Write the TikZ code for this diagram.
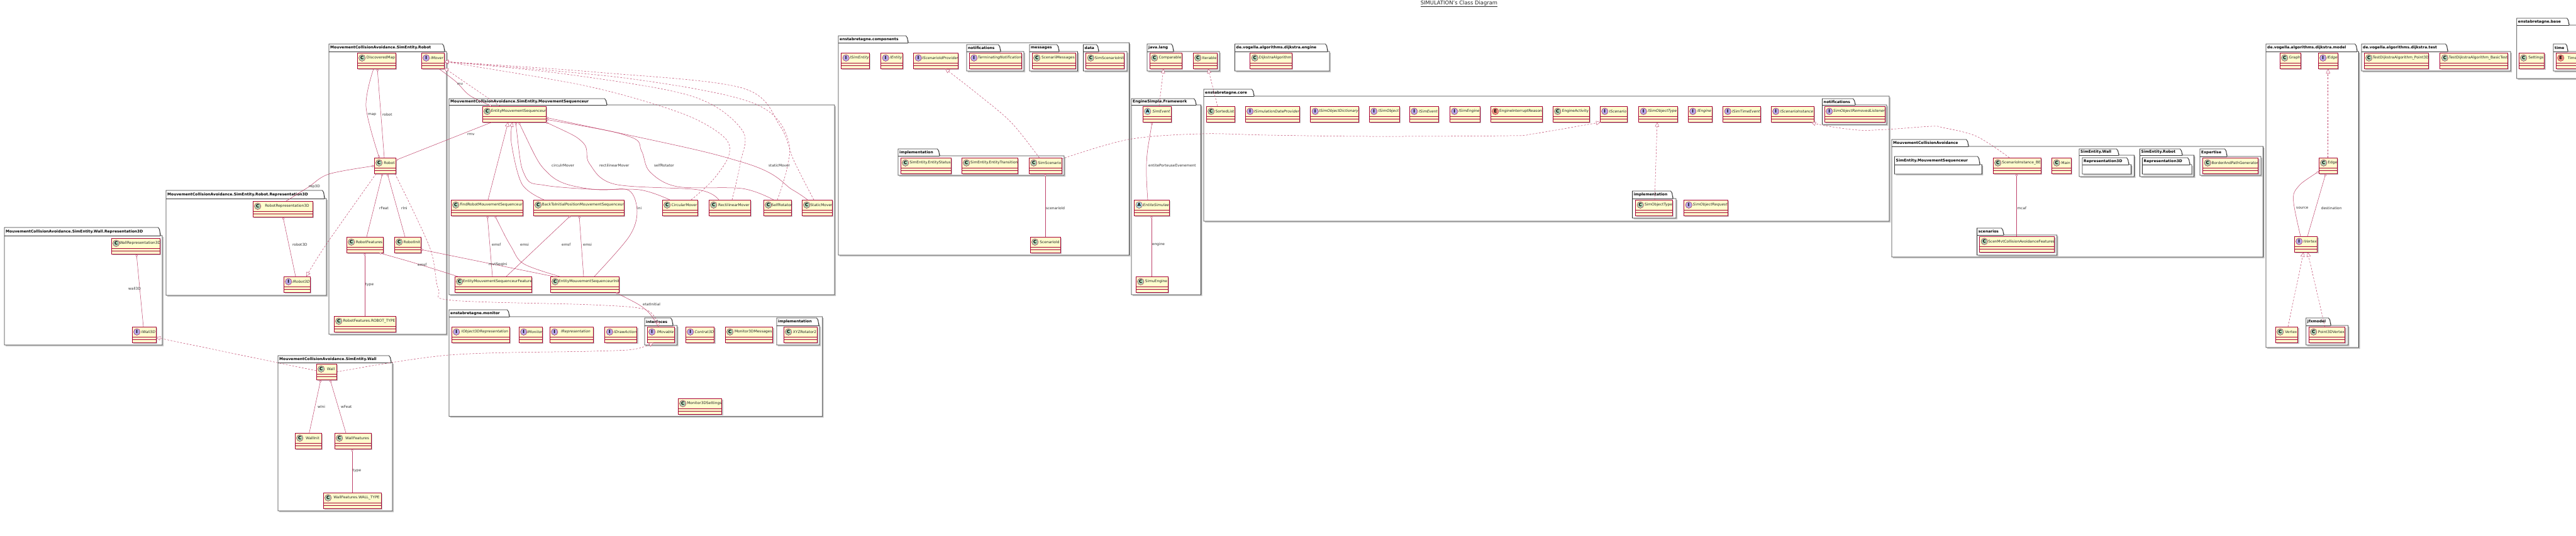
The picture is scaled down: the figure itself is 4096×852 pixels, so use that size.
\documentclass[tikz,border=0pt]{standalone}
\usepackage{fontspec}
\setmainfont{DejaVu Sans}
\usetikzlibrary{arrows.meta,calc}
\definecolor{clsB}{HTML}{A80036}
\definecolor{clsF}{HTML}{FEFECE}
\definecolor{spotC}{HTML}{ADD1B2}
\definecolor{spotI}{HTML}{B4A7E5}
\definecolor{spotA}{HTML}{A9DCDF}
\definecolor{spotE}{HTML}{EB937F}
\definecolor{frameC}{HTML}{333333}
\definecolor{shadowC}{HTML}{C4C4C4}
\tikzset{
 clsbox/.style={draw=clsB,fill=clsF,line width=.7pt,inner sep=0,outer sep=0,anchor=north west,minimum height=25.5pt},
 clssep/.style={draw=clsB,line width=.5pt},
 spotbox/.style={circle,draw=clsB,line width=.35pt,inner sep=0,minimum size=10.6pt,font=\fontsize{7}{8}\selectfont\bfseries,text=black},
 nameC/.style={font=\fontsize{5.9}{7}\selectfont,text=black!85,inner sep=0},
 nameE/.style={nameC},
 nameI/.style={font=\fontsize{5.9}{7}\selectfont\itshape,text=black!85,inner sep=0},
 nameA/.style={nameI},
 pkgframe/.style={draw=frameC,fill=white,line width=.9pt,line join=miter},
 pkgshadow/.style={fill=shadowC},
 pkgtitle/.style={font=\fontsize{6}{7}\selectfont\bfseries,inner sep=0,anchor=west,text=black},
 lab/.style={font=\fontsize{5.8}{7}\selectfont,inner sep=0,anchor=west,text=black!80},
 rel/.style={draw=clsB!75,line width=.5pt},
 dep/.style={rel,dash pattern=on 2.8pt off 2.4pt},
 agg/.style={-{Diamond[fill=white,length=4.6pt,width=3.2pt,line width=.4pt]}},
 gag/.style={{Diamond[fill=white,length=4.6pt,width=3.2pt,line width=.4pt]}-},
 real/.style={-{Triangle[fill=white,length=7pt,width=6.5pt,line width=.4pt]}},
}
\newcommand\cls[6]{%
 \pgfmathsetmacro\clsW{#4-#2}%
 \pgfmathsetmacro\clsTX{(#2+14+#4)/2}%
 \fill[shadowC] (#2+1.8,#3+1.8) rectangle (#4+1.8,#3+27.3);
 \node[clsbox,minimum width=\clsW pt] (#1) at (#2,#3) {};
 \draw[clssep] (#2,#3+16.2) -- (#4,#3+16.2) (#2,#3+20.2) -- (#4,#3+20.2);
 \node[spotbox,fill=spot#5] (#1c) at (#2+7.7,#3+8.2) {#5};
 \node[name#5] (#1t) at (\clsTX,#3+8.2) {#6};
}
% id x1 tabtop tabR bodytop x2 bottom title
\newcommand\pkg[8]{%
 \fill[shadowC] (#2+2,#3+2) -- (#4-1,#3+2) -- (#4+2,#5+2) -- (#6+2,#5+2) -- (#6+2,#7+2) -- (#2+2,#7+2) -- cycle;
 \draw[pkgframe] (#2,#3) -- (#4-3.5,#3) -- (#4-1.5,#3+3) -- (#4,#5) -- (#6,#5) -- (#6,#7) -- (#2,#7) -- cycle;
 \draw[pkgframe] (#2,#5) -- (#4,#5);
 \node[pkgtitle] (#1) at (#2+2,{(#3+#5)/2}) {#8};
}
\newcommand\lbl[4]{\node[lab] (#1) at (#2,#3) {#4};}
\begin{document}
\begin{tikzpicture}[x=1pt,y=-1pt]
\useasboundingbox[fill=white] (0,0) rectangle (4096,852);
\node[font=\fontsize{8.4}{10}\selectfont,text=black!85,inner sep=0] (title) at (2320,6) {\underline{SIMULATION's Class Diagram}};
% ---------- packages
\pkg{pWallRep}{7}{362}{255}{375}{258}{549}{MouvementCollisionAvoidance.SimEntity.Wall.Representation3D}
\pkg{pRobRep}{264}{303}{516}{316}{519}{470}{MouvementCollisionAvoidance.SimEntity.Robot.Representation3D}
\pkg{pRobot}{523}{70}{707}{82}{710}{532}{MouvementCollisionAvoidance.SimEntity.Robot}
\pkg{pWall}{442}{566}{622}{577}{624}{813}{MouvementCollisionAvoidance.SimEntity.Wall}
\pkg{pSeq}{714}{157}{965}{167}{1327}{469}{MouvementCollisionAvoidance.SimEntity.MouvementSequenceur}
\pkg{pMon}{714}{493}{810}{504}{1307.7}{662.7}{enstabretagne.monitor}
\pkg{pMonI}{1025}{506}{1070}{518}{1076.7}{549}{interfaces}
\pkg{pMonIm}{1235}{506}{1302}{518}{1303}{549}{implementation}
\pkg{pComp}{1333}{57}{1444}{68}{1795.5}{406}{enstabretagne.components}
\pkg{pCompN}{1537}{71}{1591}{82}{1628}{113}{notifications}
\pkg{pCompM}{1637}{71}{1684}{82}{1713.5}{113}{messages}
\pkg{pCompD}{1722.5}{71}{1747}{82}{1792}{113}{data}
\pkg{pCompI}{1428}{237}{1494}{248}{1692}{279}{implementation}
\pkg{pJava}{1824}{70}{1866}{82}{1939}{113}{java.lang}
\pkg{pEng}{1963.5}{70}{2111}{82}{2114}{113}{de.vogella.algorithms.dijkstra.engine}
\pkg{pFw}{1799}{157}{1902}{167}{1909.6}{469}{EngineSimple.Framework}
\pkg{pCore}{1914}{142}{1994}{153}{3004}{352}{enstabretagne.core}
\pkg{pCoreN}{2897.5}{157}{2950}{167}{3000}{198}{notifications}
\pkg{pCoreI}{2595.6}{304}{2660}{316}{2665}{347}{implementation}
\pkg{pMCA}{3008}{222}{3130}{233}{3598.5}{409}{MouvementCollisionAvoidance}
\pkg{pMCAs}{3012.5}{249}{3148}{262}{3151.4}{277}{SimEntity.MouvementSequenceur}
\pkg{pMCAw}{3306}{237}{3369}{247}{3393.5}{281}{SimEntity.Wall}
\pkg{pMCAwr}{3311}{251}{3385}{262}{3388.6}{277}{Representation3D}
\pkg{pMCAr}{3402.5}{237}{3470}{247}{3488.6}{281}{SimEntity.Robot}
\pkg{pMCArr}{3406.4}{251}{3482}{262}{3485}{277}{Representation3D}
\pkg{pMCAe}{3498}{237}{3541}{249}{3595}{279}{Expertise}
\pkg{pMCAsc}{3143.6}{363}{3186}{374}{3270.7}{406}{scenarios}
\pkg{pModel}{3603}{70}{3748}{82}{3750.5}{553}{de.vogella.algorithms.dijkstra.model}
\pkg{pJfx}{3666.7}{506}{3706}{518}{3733.7}{549}{jfxmodel}
\pkg{pTest}{3755}{70}{3892}{82}{3992}{113}{de.vogella.algorithms.dijkstra.test}
\pkg{pBase}{4001.7}{29}{4085}{40}{4130}{125}{enstabretagne.base}
\pkg{pTime}{4060}{70}{4083}{82}{4122}{113}{time}
% ---------- classes
\cls{WallRep}{177}{379}{254}{C}{WallRepresentation3D}
\cls{IWallD}{210}{520}{248}{I}{IWall3D}
\cls{RobRep}{402}{320}{497}{C}{RobotRepresentation3D}
\cls{IRobD}{451}{440}{493}{I}{IRobot3D}
\cls{DM}{568}{84}{629}{C}{DiscoveredMap}
\cls{IMover}{670}{84}{706}{I}{IMover}
\cls{Robot}{595}{251}{629}{C}{Robot}
\cls{RFeat}{551}{377}{609}{C}{RobotFeatures}
\cls{RIni}{627}{377}{669}{C}{RobotInit}
\cls{RType}{531}{503}{629}{C}{RobotFeatures.ROBOT\_TYPE}
\cls{Wall}{503}{579}{535}{C}{Wall}
\cls{WallInit}{469}{689}{511}{C}{WallInit}
\cls{WallFeat}{532}{689}{590}{C}{WallFeatures}
\cls{WallType}{514}{784}{606}{C}{WallFeatures.WALL\_TYPE}
\cls{EMS}{767}{169}{868}{C}{EntityMouvementSequenceur}
\cls{FRMS}{717}{318}{831}{C}{FindRobotMouvementSequenceur}
\cls{BTI}{848}{318}{992}{C}{BackToInitialPositionMouvementSequenceur}
\cls{CM}{1053}{318}{1109}{C}{CircularMover}
\cls{RM}{1127}{318}{1193}{C}{RectilinearMover}
\cls{SR}{1214}{318}{1258}{C}{SelfRotator}
\cls{SM}{1275}{318}{1323}{C}{StaticMover}
\cls{EMSF}{723}{440}{845}{C}{EntityMouvementSequenceurFeature}
\cls{EMSI}{875}{440}{984}{C}{EntityMouvementSequenceurInit}
\cls{MonA}{718}{520}{810}{I}{IObject3DRepresentation}
\cls{MonB}{825}{520}{862}{I}{IMonitor}
\cls{MonC}{874}{520}{943}{I}{IRepresentation}
\cls{IDraw}{961.7}{520}{1012.7}{I}{IDrawAction}
\cls{IMovable}{1029}{520}{1072.7}{I}{IMovable}
\cls{Contrat}{1090}{520}{1135.7}{I}{Contrat3D}
\cls{MonMsg}{1153}{520}{1228.7}{C}{Monitor3DMessages}
\cls{XYZ}{1246}{520}{1299}{C}{XYZRotator2}
\cls{MonSet}{1078}{634}{1147.7}{C}{Monitor3DSettings}
\cls{ISE}{1337.5}{84}{1382}{I}{ISimEntity}
\cls{IEnt}{1400.5}{84}{1435}{I}{IEntity}
\cls{ISIP}{1452.5}{84}{1523.4}{I}{IScenarioIdProvider}
\cls{TermN}{1541}{84}{1624}{I}{TerminatingNotification}
\cls{ScMsg}{1641}{84}{1710}{C}{ScenariiMessages}
\cls{SSI}{1726.6}{84}{1787.5}{C}{SimScenarioInit}
\cls{SEES}{1432}{251}{1512}{C}{SimEntity.EntityStatus}
\cls{SEET}{1529}{251}{1618.5}{C}{SimEntity.EntityTransition}
\cls{SimScen}{1636}{251}{1688}{C}{SimScenario}
\cls{ScId}{1638}{377}{1686}{C}{ScenarioId}
\cls{Comparable}{1828}{84}{1879}{C}{Comparable}
\cls{Iterable}{1897}{84}{1935}{C}{Iterable}
\cls{Dijkstra}{1987.5}{84}{2054}{C}{DijkstraAlgorithm}
\cls{SimEvent}{1817}{169}{1862}{A}{SimEvent}
\cls{EntSim}{1803.5}{318}{1859}{A}{EntiteSimulee}
\cls{SimuEng}{1806}{440}{1857}{C}{SimuEngine}
\cls{SortedList}{1918}{169}{1963}{C}{SortedList}
\cls{ISDP}{1980}{169}{2066}{I}{ISimulationDateProvider}
\cls{ISOD}{2083.5}{169}{2160}{I}{ISimObjectDictionary}
\cls{ISO}{2177}{169}{2225}{I}{ISimObject}
\cls{ISEv}{2241}{169}{2287}{I}{ISimEvent}
\cls{ISEn}{2305}{169}{2353}{I}{ISimEngine}
\cls{EIR}{2370}{169}{2452}{E}{EngineInterruptReason}
\cls{EAct}{2469}{169}{2527}{C}{EngineActivity}
\cls{IScen}{2544}{169}{2587}{I}{IScenario}
\cls{ISOT}{2605.5}{169}{2667}{I}{ISimObjectType}
\cls{IEng}{2684}{169}{2722}{I}{IEngine}
\cls{ISTE}{2739.5}{169}{2799}{I}{ISimTimeEvent}
\cls{IScI}{2816}{169}{2884}{I}{IScenarioInstance}
\cls{SORL}{2901}{169}{2997}{I}{SimObjectRemovedListener}
\cls{SOT}{2600.5}{318}{2659.5}{C}{SimObjectType}
\cls{SOR}{2677.5}{318}{2747}{I}{SimObjectRequest}
\cls{SIBE}{3169}{251}{3245}{C}{ScenarioInstance\_BE}
\cls{Main}{3262.5}{251}{3293}{C}{Main}
\cls{BAPG}{3502.5}{251}{3590.7}{C}{BorderAndPathGenerator}
\cls{SMCAF}{3147.5}{376}{3266.8}{C}{ScenMvtCollisionAvoidanceFeatures}
\cls{Graph}{3625}{84}{3658.4}{C}{Graph}
\cls{IEdge}{3686}{84}{3717}{I}{IEdge}
\cls{Edge}{3687}{251}{3716.6}{C}{Edge}
\cls{IVertex}{3648}{376}{3684.7}{I}{IVertex}
\cls{Vertex}{3618}{520}{3653.7}{C}{Vertex}
\cls{PVertex}{3671}{520}{3728.7}{C}{Point3DVertex}
\cls{TPoint}{3759}{84}{3861.6}{C}{TestDijkstraAlgorithm\_Point3D}
\cls{TBasic}{3879.7}{84}{3987.5}{C}{TestDijkstraAlgorithm\_BasicTest}
\cls{Settings}{4005}{84}{4045.7}{C}{Settings}
\cls{TimeUnit}{4064}{84}{4114}{E}{TimeUnit}
% ---------- connectors
\tikzset{smoothy/.style={smooth,tension=.55}}
% left side
\draw[rel,gag] (WallRep.south -| 217,0) -- (IWallD.north -| 228,0);
\draw[rel,gag] (RobRep.south -| 450,0) -- (IRobD.north -| 470,0);
\draw[dep,real] (Wall.west |- 0,590) -- (IWallD.east |- 0,537);
\draw[rel,agg] plot[smoothy] coordinates {(RobRep.north -| 455,0) (490,298) (523,277) (Robot.west |- 0,264)};
\draw[dep,real] plot[smoothy] coordinates {(Robot.south -| 598,0) (518,390) (IRobD.north -| 487,0)};
\draw[rel,agg] plot[smoothy] coordinates {(DM.south -| 594,0) (582,170) (Robot.north -| 603,0)};
\draw[rel,gag] (DM.south -| 600,0) -- (Robot.north -| 611,0);
\draw[rel,gag] (Robot.south -| 608,0) -- (RFeat.north -| 583,0);
\draw[rel,gag] (Robot.south -| 616,0) -- (RIni.north -| 644,0);
\draw[rel,gag] (Robot.east |- 0,255) -- (EMS.south -| 782,0);
\draw[rel,agg] plot[smoothy] coordinates {(IMover.south -| 698,0) (725,130) (747,152) (EMS.north -| 782,0)};
\draw[dep,real] (EMS.north -| 795,0) -- (IMover.east |- 0,108);
\draw[rel,gag] (RFeat.south -| 580,0) -- (RType.north -| 580,0);
\draw[rel,gag] plot[smoothy] coordinates {(RFeat.south -| 603,0) (664,420) (EMSF.north -| 728,0)};
\draw[rel,gag] (RIni.east |- 0,397) -- (EMSI.north -| 880,0);
\draw[rel,gag] (Wall.south -| 510,0) -- (WallInit.north -| 491.7,0);
\draw[rel,gag] (Wall.south -| 525,0) -- (WallFeat.north -| 550,0);
\draw[rel,gag] (WallFeat.south -| 560,0) -- (WallType.north -| 560,0);
% sequencer
\draw[rel,real] (FRMS.north -| 776,0) -- (EMS.south -| 808,0);
\draw[rel,real] plot[smoothy] coordinates {(BTI.north -| 865,0) (830,293) (813,227) (EMS.south -| 815,0)};
\draw[rel,gag] plot[smoothy] coordinates {(EMS.south -| 825,0) (873,277) (933,300) (1017,302) (CM.north -| 1065,0)};
\draw[rel,gag] plot[smoothy] coordinates {(EMS.east |- 0,194.5) (927,227) (937,260) (977,293) (1110,302) (RM.north -| 1143,0)};
\draw[rel,gag] plot[smoothy] coordinates {(EMS.east |- 0,190) (1000,217) (1020,240) (1033,273) (1077,297) (1180,300) (SR.north -| 1230,0)};
\draw[rel,gag] plot[smoothy] coordinates {(EMS.east |- 0,187) (1180,258) (1260,302) (SM.north -| 1284,0)};
\draw[rel,gag] plot[smoothy] coordinates {(EMS.south -| 820,0) (835,280) (867,295) (953,302) (1000,303) (1013,337) (1000,377) (EMSI.north -| 945,0)};
\draw[rel,gag] (FRMS.south -| 775,0) -- (EMSF.north -| 783,0);
\draw[rel,gag] plot[smoothy] coordinates {(FRMS.south -| 787,0) (813,393) (833,420) (EMSI.north -| 890,0)};
\draw[rel,gag] (BTI.south -| 907,0) -- (EMSF.north -| 805,0);
\draw[rel,gag] (BTI.south -| 921,0) -- (EMSI.north -| 928,0);
\draw[dep,real] plot[smoothy] coordinates {(CM.north -| 1099,0) (1133,287) (1159,247) (1150,217) (1083,180) (933,137) (IMover.east |- 0,98)};
\draw[dep,real] plot[smoothy] coordinates {(RM.north -| 1164,0) (1177,260) (1180,207) (1100,153) (900,118) (IMover.east |- 0,98)};
\draw[dep,real] plot[smoothy] coordinates {(SR.north -| 1236,0) (1255,230) (1200,165) (1000,125) (IMover.east |- 0,98)};
\draw[dep,real] plot[smoothy] coordinates {(SM.north -| 1294,0) (1262,255) (1240,200) (1180,140) (950,115) (IMover.east |- 0,98)};
% monitor
\draw[rel,gag] plot[smoothy] coordinates {(EMSI.south -| 979,0) (1027,493) (IMovable.north -| 1047,0)};
\draw[dep,real] plot[smoothy] coordinates {(Wall.east |- 0,592) (714,565) (940,559) (1007,556) (IMovable.south -| 1039,0)};
\draw[dep,real] plot[smoothy] coordinates {(Robot.south -| 628,0) (683,393) (697,460) (720,478) (940,485) (1027,493) (IMovable.north -| 1047,0)};
% components
\draw[dep,real] plot[smoothy] coordinates {(SimScen.north -| 1652.5,0) (1608,195) (1555,150) (ISIP.south -| 1503,0)};
\draw[rel,gag] (SimScen.south -| 1662,0) -- (ScId.north -| 1662,0);
\draw[dep,real] plot[smoothy] coordinates {(SimScen.east |- 0,253) (1794,222) (1909,213) (2015,215) (2178,217) (2400,216) (2438,213) (IScen.south -| 2545,0)};
% engine
\draw[dep,real] (SimEvent.north -| 1843,0) -- (Comparable.south -| 1850,0);
\draw[dep,real] (SortedList.north -| 1936,0) -- (Iterable.south -| 1921,0);
\draw[rel,gag] plot[smoothy] coordinates {(SimEvent.south -| 1832,0) (1823,260) (EntSim.north -| 1825,0)};
\draw[rel,gag] (EntSim.south -| 1831,0) -- (SimuEng.north -| 1831,0);
\draw[dep,real] (SOT.north -| 2631,0) -- (ISOT.south -| 2635,0);
\draw[dep,real] plot[smoothy] coordinates {(SIBE.north -| 3195,0) (3143,217) (3089,203) (3071,201) (3000,206) (2955,207) (2901,200) (IScI.south -| 2880,0)};
\draw[rel,gag] (SIBE.south -| 3206.4,0) -- (SMCAF.north -| 3206.4,0);
% dijkstra
\draw[dep,real] (Edge.north -| 3701.7,0) -- (IEdge.south -| 3701.7,0);
\draw[rel,gag] plot[smoothy] coordinates {(Edge.west |- 0,272.7) (3653.5,298) (3646.7,320) (IVertex.north -| 3658,0)};
\draw[rel,gag] (Edge.south -| 3698,0) -- (IVertex.north -| 3669,0);
\draw[dep,real] (Vertex.north -| 3638,0) -- (IVertex.south -| 3662.7,0);
\draw[dep,real] (PVertex.north -| 3696.7,0) -- (IVertex.south -| 3669.3,0);
% ---------- labels
\lbl{lWall}{204}{459}{wall3D}
\lbl{lRob}{465}{389}{robot3D}
\lbl{lRep}{491}{297}{rep3D}
\lbl{lMap}{585}{182}{map}
\lbl{lRobot}{608}{182}{robot}
\lbl{lFeat}{603}{331}{rFeat}
\lbl{lIni}{638}{331}{rIni}
\lbl{lRmv}{743}{214}{rmv}
\lbl{lMv}{727}{134}{mv}
\lbl{lType}{581}{453}{type}
\lbl{lEmsfA}{664}{421}{emsf}
\lbl{lSeqIni}{777}{421}{mvtSeqIni}
\lbl{lWIni}{505}{647}{wIni}
\lbl{lWFeat}{542}{647}{wFeat}
\lbl{lWType}{561}{749}{type}
\lbl{lCirc}{877}{263}{circulrMover}
\lbl{lRect}{953}{263}{rectilinearMover}
\lbl{lSelf}{1040}{263}{selfRotator}
\lbl{lStat}{1222}{263}{staticMover}
\lbl{lIniS}{1013}{331}{ini}
\lbl{lEmsfB}{782}{389}{emsf}
\lbl{lEmsiB}{827}{389}{emsi}
\lbl{lEmsfC}{893}{389}{emsf}
\lbl{lEmsiC}{927}{389}{emsi}
\lbl{lEtat}{1022}{484}{etatInitial}
\lbl{lScId}{1663}{331}{scenarioId}
\lbl{lEPE}{1826}{263}{entitePorteuseEvenement}
\lbl{lEngine}{1832}{389}{engine}
\lbl{lMcaf}{3207.5}{331}{mcaf}
\lbl{lSrc}{3651}{331}{source}
\lbl{lDst}{3690.7}{331}{destination}
\end{tikzpicture}
\end{document}
